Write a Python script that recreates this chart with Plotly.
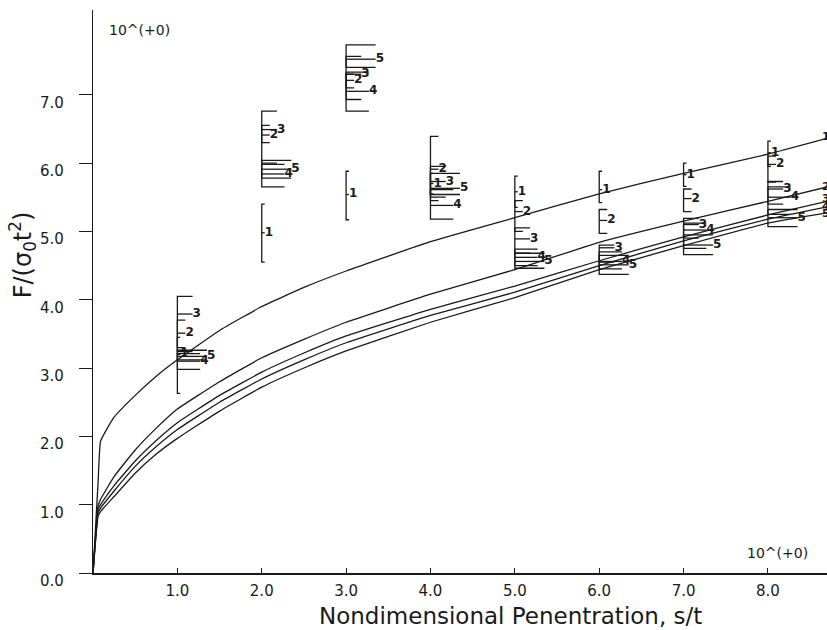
import plotly.graph_objects as go

# ---- data ----
s_pts = [0, 0.06, 0.09, 0.25, 0.5, 0.75, 1, 1.5, 2, 2.5, 3, 4, 5, 6, 7, 8, 8.7]
f_curve1 = [0, 1.32, 1.93, 2.28, 2.60, 2.88, 3.12, 3.55, 3.90, 4.18, 4.42, 4.85, 5.20, 5.55, 5.85, 6.13, 6.36]
f_curve2 = [0, 0.98, 1.08, 1.41, 1.80, 2.12, 2.40, 2.80, 3.15, 3.42, 3.67, 4.08, 4.44, 4.84, 5.15, 5.44, 5.65]
f_curve3 = [0, 0.93, 1.00, 1.28, 1.64, 1.94, 2.20, 2.60, 2.94, 3.22, 3.47, 3.86, 4.20, 4.57, 4.92, 5.24, 5.44]
f_curve4 = [0, 0.88, 0.95, 1.20, 1.56, 1.85, 2.10, 2.50, 2.84, 3.12, 3.37, 3.77, 4.11, 4.50, 4.86, 5.18, 5.36]
f_curve5 = [0, 0.83, 0.90, 1.12, 1.46, 1.74, 1.97, 2.37, 2.72, 3.00, 3.25, 3.67, 4.03, 4.44, 4.79, 5.12, 5.27]
curve_names = ["1", "2", "3", "4", "5"]

group_s = [1, 2, 3, 4, 5, 6, 7, 8]
s1_min = [2.63, 4.55, 5.17, 5.55, 5.35, 5.42, 5.66, 5.95]
s1_mean = [3.20, 4.98, 5.54, 5.70, 5.58, 5.61, 5.83, 6.15]
s1_max = [3.45, 5.40, 5.88, 5.85, 5.81, 5.88, 6.00, 6.32]
s2_min = [3.30, 6.30, 7.10, 5.45, 5.00, 4.97, 5.29, 5.72]
s2_mean = [3.51, 6.41, 7.21, 5.91, 5.29, 5.16, 5.48, 5.98]
s2_max = [3.70, 6.55, 7.30, 6.39, 5.45, 5.32, 5.62, 6.10]
s3_min = [3.24, 6.00, 6.93, 5.50, 4.68, 4.55, 4.90, 5.40]
s3_mean = [3.79, 6.49, 7.30, 5.73, 4.89, 4.76, 5.10, 5.62]
s3_max = [4.05, 6.76, 7.56, 5.95, 5.05, 4.80, 5.19, 5.73]
s4_min = [2.98, 5.65, 6.76, 5.18, 4.50, 4.45, 4.75, 5.25]
s4_mean = [3.10, 5.84, 7.05, 5.38, 4.62, 4.56, 5.02, 5.50]
s4_max = [3.21, 5.98, 7.33, 5.61, 4.74, 4.70, 5.12, 5.65]
s5_min = [3.12, 5.78, 7.40, 5.54, 4.46, 4.37, 4.66, 5.07]
s5_mean = [3.17, 5.91, 7.52, 5.63, 4.56, 4.51, 4.80, 5.20]
s5_max = [3.26, 6.04, 7.73, 5.85, 4.68, 4.65, 4.95, 5.32]

x_tick_vals = [1, 2, 3, 4, 5, 6, 7, 8]
x_tick_text = ["1.0", "2.0", "3.0", "4.0", "5.0", "6.0", "7.0", "8.0"]
y_tick_vals = [0, 1, 2, 3, 4, 5, 6, 7]
y_tick_text = ["0.0", "1.0", "2.0", "3.0", "4.0", "5.0", "6.0", "7.0"]
x_title = "Nondimensional Penentration, s/t"
y_title = "F/(σ<sub>0</sub>t<sup>2</sup>)"
scale_text = "10^(+0)"

# ---- style ----
INK = "#1a1a1a"
FONT = "DejaVu Sans, Liberation Sans, Arial, sans-serif"
serif_len = [0.035, 0.095, 0.18, 0.27, 0.35]  # bracket tick length per series (x units)

fig = go.Figure()

curves = [f_curve1, f_curve2, f_curve3, f_curve4, f_curve5]
for name, ys in zip(curve_names, curves):
    fig.add_trace(go.Scatter(x=s_pts, y=ys, mode="lines", name=name,
                             line=dict(color=INK, width=1.3, shape="spline", smoothing=0.35),
                             showlegend=False, hoverinfo="skip"))

series = [(s1_min, s1_mean, s1_max), (s2_min, s2_mean, s2_max), (s3_min, s3_mean, s3_max),
          (s4_min, s4_mean, s4_max), (s5_min, s5_mean, s5_max)]
for k, (mins, means, maxs) in enumerate(series):
    L = serif_len[k]
    xs, ys = [], []
    for gx, lo, mu, hi in zip(group_s, mins, means, maxs):
        xs += [gx + L, gx, gx, gx + L, None, gx, gx + L, None]
        ys += [hi, hi, lo, lo, None, mu, mu, None]
    fig.add_trace(go.Scatter(x=xs, y=ys, mode="lines", showlegend=False, hoverinfo="skip",
                             line=dict(color=INK, width=1.3)))
    fig.add_trace(go.Scatter(x=[gx + L for gx in group_s], y=means, mode="text",
                             text=[curve_names[k]] * len(group_s), textposition="middle right",
                             textfont=dict(family=FONT, size=12, color=INK, weight="bold"),
                             showlegend=False, hoverinfo="skip"))

annotations = []
for v, t in zip(y_tick_vals, y_tick_text):
    annotations.append(dict(x=0, xref="paper", xshift=-41, y=v, yref="y", yshift=-8,
                            text=t, showarrow=False, xanchor="center", yanchor="middle",
                            font=dict(family=FONT, size=15, color=INK)))
annotations.append(dict(x=0.17, xref="x", y=7.95, yref="y", text=scale_text, showarrow=False,
                        xanchor="left", yanchor="middle", font=dict(family=FONT, size=14, color=INK)))
annotations.append(dict(x=7.73, xref="x", y=0.30, yref="y", text=scale_text, showarrow=False,
                        xanchor="left", yanchor="middle", font=dict(family=FONT, size=14, color=INK)))
annotations.append(dict(x=4.95, xref="x", y=0, yref="paper", yshift=-43, text=x_title,
                        showarrow=False, xanchor="center", yanchor="middle",
                        font=dict(family=FONT, size=23, color=INK)))
annotations.append(dict(x=0, xref="paper", xshift=-71, y=4.65, yref="y", text=y_title,
                        textangle=-90, showarrow=False, xanchor="center", yanchor="middle",
                        font=dict(family=FONT, size=24, color=INK)))
label_y = [6.39, 5.66, 5.48, 5.37, 5.26]
for name, yv in zip(curve_names, label_y):
    annotations.append(dict(x=8.62, xref="x", y=yv, yref="y", text=name, showarrow=False,
                            xanchor="left", yanchor="middle",
                            font=dict(family=FONT, size=11, color=INK, weight="bold")))

fig.update_layout(
    width=827, height=630,
    margin=dict(l=93, r=0, t=10, b=57),
    paper_bgcolor="white", plot_bgcolor="white",
    annotations=annotations,
    xaxis=dict(range=[0, 8.7], tickvals=x_tick_vals, ticktext=x_tick_text, ticks="inside",
               ticklen=5, tickcolor=INK, showline=True, linecolor=INK, linewidth=1.5,
               showgrid=False, zeroline=False, ticklabelstandoff=3,
               tickfont=dict(family=FONT, size=15, color=INK)),
    yaxis=dict(range=[0, 8.24], tickvals=y_tick_vals, ticks="outside", ticklen=13,
               tickcolor=INK, showline=True, linecolor=INK, linewidth=1.5,
               showgrid=False, zeroline=False, showticklabels=False),
)

fig.write_html("out.html", config={"displayModeBar": False, "staticPlot": True},
               post_script="document.body.style.margin='0';document.body.style.overflow='hidden';")
